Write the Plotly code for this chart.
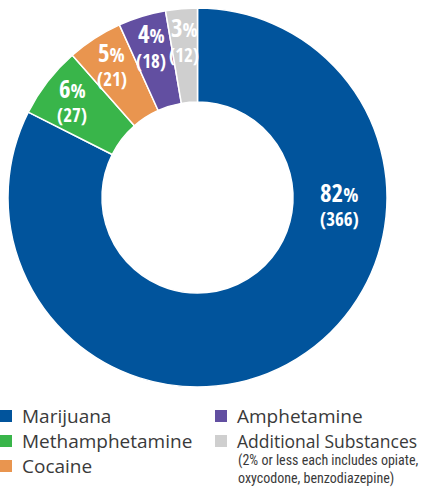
import math
import plotly.graph_objects as go

# ---- data ----
labels = ["Marijuana", "Methamphetamine", "Cocaine", "Amphetamine", "Additional Substances"]
counts = [366, 27, 21, 18, 12]
colors = ["#01549C", "#39B54A", "#E9954F", "#624FA1", "#CFCFCF"]
legend_note = ["(2% or less each includes opiate,", "oxycodone, benzodiazepine)"]

W, H = 426, 489
CX, CY, R = 197.5, 197.5, 189.5

fig = go.Figure()
fig.add_trace(go.Pie(
    labels=labels, values=counts, sort=False, direction="clockwise", rotation=0,
    hole=0.504, marker=dict(colors=colors, line=dict(color="white", width=1.5)),
    textinfo="none", hoverinfo="label+value+percent", showlegend=False,
    domain=dict(x=[(CX - R) / W, (CX + R) / W], y=[1 - (CY + R) / H, 1 - (CY - R) / H]),
))

total = sum(counts)
annotations = []
shapes = []
cum = 0
LABEL_FONT = "Open Sans Condensed, Roboto Condensed, sans-serif"
for i, v in enumerate(counts):
    mid = (cum + v / 2) / total * 360
    cum += v
    if i == 0:
        ang, rr = 93, 141.7   # big slice label sits at the right side
    else:
        ang, rr = mid, 158
    x = CX + rr * math.sin(math.radians(ang))
    y = CY - rr * math.cos(math.radians(ang))
    pct = round(v / total * 100)
    annotations.append(dict(
        x=x / W, y=1 - (y + 5) / H, xref="paper", yref="paper", showarrow=False,
        text=f"<b>{pct}</b><span style='font-size:20px'>%</span>", borderpad=0,
        font=dict(family=LABEL_FONT, size=25, color="white"), xanchor="center", yanchor="bottom"))
    annotations.append(dict(
        x=x / W, y=1 - (y + 0.5) / H, xref="paper", yref="paper", showarrow=False,
        text=f"<b>({v})</b>", borderpad=0,
        font=dict(family=LABEL_FONT, size=19, color="white"), xanchor="center", yanchor="top"))

# ---- legend (two columns) ----
legend_pos = [(0, 416), (0, 441), (0, 466), (215, 416), (215, 441)]
legend_size = [19, 19, 19, 19, 17.5]
for (lx, ly), lab, col, fs in zip(legend_pos, labels, colors, legend_size):
    shapes.append(dict(type="rect", xref="paper", yref="paper",
                       x0=lx / W, x1=(lx + 12) / W, y0=1 - (ly + 6) / H, y1=1 - (ly - 6) / H,
                       fillcolor=col, line=dict(width=0)))
    annotations.append(dict(x=(lx + 20) / W, y=1 - ly / H, xref="paper", yref="paper",
                            showarrow=False, text=lab, xanchor="left", yanchor="middle",
                            font=dict(family="Open Sans, sans-serif", size=fs, color="#3a3a3a")))
for j, line in enumerate(legend_note):
    annotations.append(dict(x=236 / W, y=1 - (460 + 18 * j) / H, xref="paper", yref="paper",
                            showarrow=False, text=line, xanchor="left", yanchor="middle",
                            font=dict(family="Roboto Condensed, sans-serif",
                                      size=14, color="#3a3a3a")))

fig.update_layout(width=W, height=H, margin=dict(l=0, r=0, t=0, b=0),
                  paper_bgcolor="white", plot_bgcolor="white",
                  annotations=annotations, shapes=shapes)
fig.write_html("out.html", config={"displayModeBar": False},
               post_script="document.body.style.margin='0';")
